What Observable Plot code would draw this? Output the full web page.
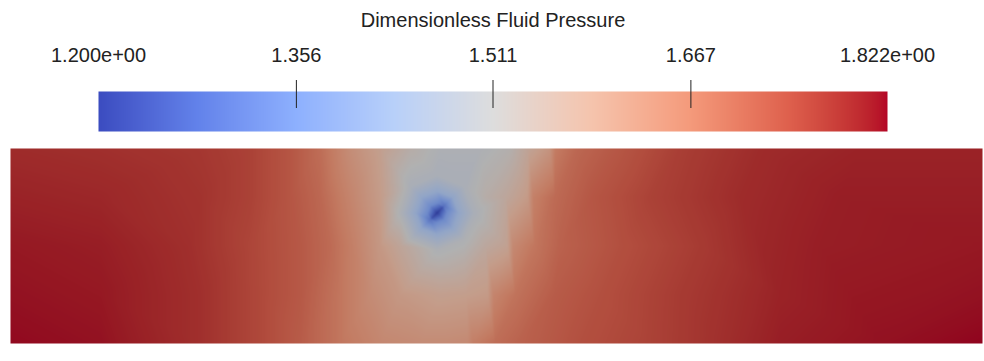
<!DOCTYPE html>
<html><head><meta charset="utf-8">
<script src="https://cdn.jsdelivr.net/npm/d3@7"></script>
<script src="https://cdn.jsdelivr.net/npm/@observablehq/plot@0.6"></script>
<style>
html,body{margin:0;padding:0;background:#fff;}
#wrap{width:984px;height:361px;position:relative;overflow:hidden;}
#wrap svg{display:block;}
</style></head><body><div id="wrap"></div>
<script>
// ---- colour bar ----
const title = "Dimensionless Fluid Pressure";
const pMin = 1.2, pMax = 1.822;
const tickValues = [1.2, 1.356, 1.511, 1.667, 1.822];
const tickLabels = ["1.200e+00", "1.356", "1.511", "1.667", "1.822e+00"];
const innerTicks = [1.356, 1.511, 1.667];
const cmapStops = ["rgb(59,76,192)", "rgb(98,130,234)", "rgb(141,176,254)", "rgb(184,208,249)",
  "rgb(221,221,221)", "rgb(245,196,173)", "rgb(244,154,123)", "rgb(222,96,77)", "rgb(180,4,38)"];
const shade = 0.8; // lit surface

// ---- field samples (x 0..100 across, y 0..20 up) ----
const row20X = [0, 9.26, 19.55, 24.69, 28.81, 31.89, 34.98, 38.07, 41.15, 44.24, 48.35, 51.44, 53.26, 55.46, 56.06, 58.26, 62.0, 68.93, 77.16, 87.45, 100];
const row20P = [1.79, 1.785, 1.775, 1.76, 1.73, 1.69, 1.625, 1.58, 1.53, 1.50, 1.50, 1.52, 1.565, 1.61, 1.665, 1.70, 1.725, 1.765, 1.79, 1.80, 1.80];
const row15X = [0, 9.26, 19.55, 24.69, 28.81, 31.89, 34.98, 38.07, 49.0, 51.0, 53.2, 53.8, 56.0, 60.0, 65.84, 75.10, 85.39, 100];
const row15P = [1.80, 1.795, 1.78, 1.76, 1.73, 1.70, 1.645, 1.59, 1.53, 1.555, 1.595, 1.655, 1.695, 1.73, 1.76, 1.79, 1.805, 1.805];
const row10X = [0, 9.26, 18.52, 24.69, 29.84, 32.92, 34.98, 38.07, 40.12, 48.9, 51.1, 51.7, 53.9, 56.58, 62.76, 70.99, 83.33, 100];
const row10P = [1.81, 1.805, 1.785, 1.755, 1.725, 1.695, 1.66, 1.60, 1.56, 1.55, 1.575, 1.635, 1.675, 1.71, 1.74, 1.77, 1.805, 1.81];
const row5X = [0, 9.26, 19.55, 25.72, 29.84, 33.95, 37.04, 40.12, 44.24, 46.9, 49.1, 49.7, 51.9, 56.0, 60.70, 68.93, 79.22, 100];
const row5P = [1.815, 1.81, 1.785, 1.75, 1.725, 1.675, 1.63, 1.60, 1.58, 1.585, 1.595, 1.645, 1.68, 1.72, 1.74, 1.77, 1.80, 1.815];
const row0X = [0, 9.26, 19.55, 25.72, 29.84, 33.95, 38.07, 42.18, 44.83, 47.03, 47.63, 49.83, 52.47, 58.64, 65.84, 73.05, 79.22, 89.51, 100];
const row0P = [1.82, 1.815, 1.785, 1.75, 1.72, 1.675, 1.64, 1.63, 1.63, 1.635, 1.66, 1.69, 1.71, 1.74, 1.76, 1.785, 1.805, 1.815, 1.822];
const spotX = [43.9, 44.4, 43.4,
  44.9, 44.6, 43.9, 43.2, 42.9, 43.2, 43.9, 44.6,
  46.1, 45.5, 43.9, 42.3, 41.7, 42.3, 43.9, 45.5,
  47.7, 46.6, 43.9, 41.2, 40.1, 41.2, 43.9, 46.6];
const spotY = [13.4, 13.9, 12.9,
  13.4, 14.1, 14.4, 14.1, 13.4, 12.7, 12.4, 12.7,
  13.4, 15.0, 15.6, 15.0, 13.4, 11.8, 11.2, 11.8,
  13.4, 16.1, 17.2, 16.1, 13.4, 10.7, 9.6, 10.7];
const spotP = [1.20, 1.24, 1.24,
  1.35, 1.30, 1.35, 1.35, 1.35, 1.30, 1.35, 1.35,
  1.43, 1.43, 1.43, 1.43, 1.43, 1.43, 1.43, 1.43,
  1.49, 1.49, 1.49, 1.49, 1.50, 1.50, 1.50, 1.50];

const coolwarm = d3.piecewise(d3.interpolateLab, cmapStops);
const litCoolwarm = t => { const c = d3.rgb(coolwarm(t)); return d3.rgb(c.r * shade, c.g * shade, c.b * shade).toString(); };

const rows = [[20, row20X, row20P], [15, row15X, row15P], [10, row10X, row10P], [5, row5X, row5P], [0, row0X, row0P]];
const samples = [
  ...rows.flatMap(([y, xs, ps]) => xs.map((x, i) => ({x, y, p: ps[i]}))),
  ...spotX.map((x, i) => ({x, y: spotY[i], p: spotP[i]}))
];

const font = "'Liberation Sans', Arial, sans-serif";

const bar = Plot.plot({
  width: 984, height: 140,
  marginLeft: 98, marginRight: 97, marginTop: 91, marginBottom: 9,
  x: {domain: [pMin, pMax], axis: null},
  y: {domain: [0, 1], axis: null},
  color: {type: "linear", domain: [pMin, pMax], interpolate: coolwarm},
  style: {fontFamily: font, color: "#222", background: "#fff"},
  marks: [
    Plot.raster({fill: (x, y) => x, x1: pMin, x2: pMax, y1: 0, y2: 1}),
    Plot.ruleX(innerTicks, {x: d => d, y1: 0.575, y2: 1.275, stroke: "#222", strokeWidth: 1}),
    Plot.text(tickValues, {x: d => d, y: 1.9, text: (d, i) => tickLabels[i], fontSize: 20, fill: "#222"}),
    Plot.text([title], {x: (pMin + pMax) / 2, y: 2.78, text: d => d, fontSize: 20, fill: "#222"})
  ]
});

const field = Plot.plot({
  width: 984, height: 221,
  marginLeft: 10, marginRight: 2, marginTop: 8, marginBottom: 18,
  x: {domain: [0, 100], axis: null},
  y: {domain: [0, 20], axis: null},
  color: {type: "linear", domain: [pMin, pMax], interpolate: litCoolwarm},
  style: {background: "#fff"},
  marks: [
    Plot.raster(samples, {x: "x", y: "y", fill: "p", interpolate: "barycentric", x1: 0, x2: 100, y1: 0, y2: 20})
  ]
});

const wrap = document.getElementById("wrap");
wrap.appendChild(bar);
wrap.appendChild(field);
</script></body></html>
